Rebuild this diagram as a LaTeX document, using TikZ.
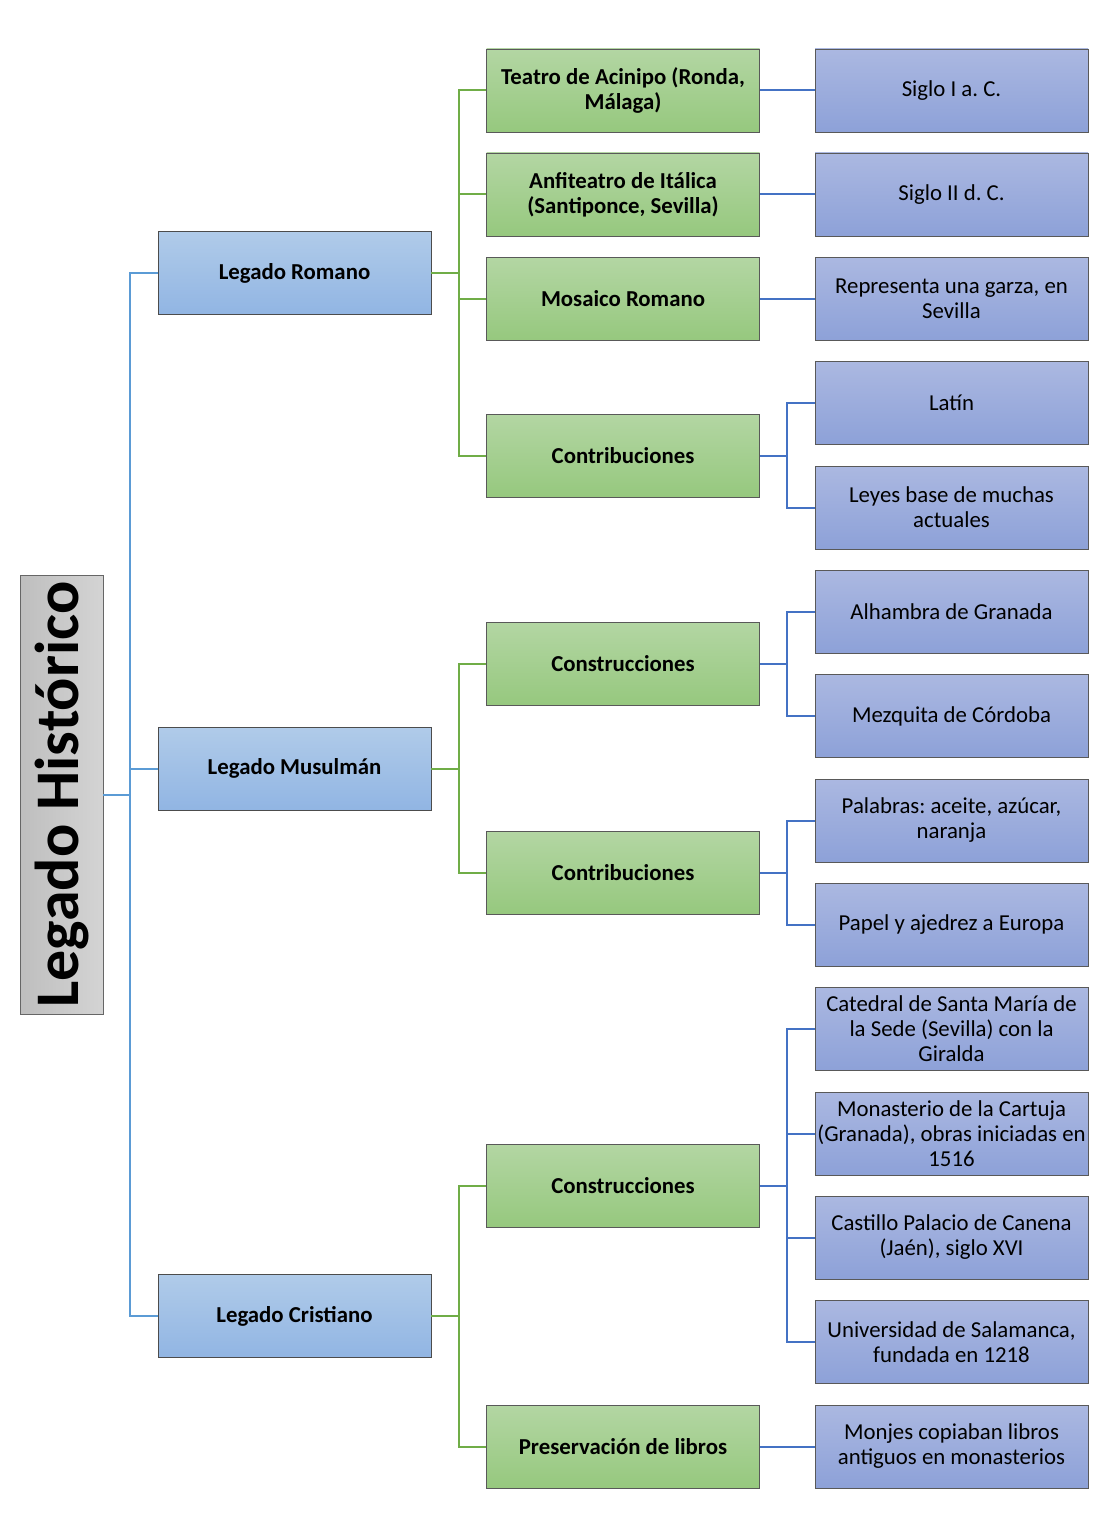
\documentclass[tikz,border=0pt]{standalone}
\usepackage{fontspec}
\setmainfont{Carlito}
\frenchspacing
\tikzset{
  base/.style={rectangle, draw=#1, line width=0.9pt, minimum width=273pt, minimum height=83pt, align=center, inner sep=0pt, font=\fontsize{22.8}{25}\selectfont},
  lone/.style={base=black!70, top color=blueA1, bottom color=blueA2, font=\fontsize{22.8}{25}\selectfont\bfseries},
  ltwo/.style={base=black!65, top color=greenA1, bottom color=greenA2, font=\fontsize{22.8}{25}\selectfont\bfseries},
  lthree/.style={base=black!65, top color=purpA1, bottom color=purpA2},
  ctitle/.style={rectangle, draw=black!60, line width=0.9pt, minimum width=439pt, minimum height=83pt, left color=grayA2, right color=grayA1, inner sep=0pt, font=\fontsize{62}{66}\selectfont\bfseries},
  cblue/.style={draw=lineA, line width=2pt},
  cgreen/.style={draw=lineG, line width=2pt},
  cdark/.style={draw=lineB, line width=2pt},
}
\definecolor{blueA1}{HTML}{B0CBE9}
\definecolor{blueA2}{HTML}{91B5E3}
\definecolor{greenA1}{HTML}{B3D6A3}
\definecolor{greenA2}{HTML}{96C87E}
\definecolor{purpA1}{HTML}{ABB8E1}
\definecolor{purpA2}{HTML}{8DA1D8}
\definecolor{grayA1}{HTML}{D4D4D4}
\definecolor{grayA2}{HTML}{BEBEBE}
\definecolor{lineA}{HTML}{5B9BD5}
\definecolor{lineG}{HTML}{70AD47}
\definecolor{lineB}{HTML}{4472C4}
\begin{document}
\begin{tikzpicture}[x=1pt,y=-1pt]
\useasboundingbox (0,0) rectangle (1107,1538);
% title
\node[ctitle, rotate=90] (t) at (61.5,794.5) {Legado Histórico};
% level 1
\node[lone] (r) at (294.5,273) {Legado Romano};
\node[lone] (m) at (294.5,768.5) {Legado Musulmán};
\node[lone] (c) at (294.5,1316) {Legado Cristiano};
% level 2
\node[ltwo] (r1) at (623,90.5) {Teatro de Acinipo (Ronda,\\Málaga)};
\node[ltwo] (r2) at (623,194.5) {Anfiteatro de Itálica\\(Santiponce, Sevilla)};
\node[ltwo] (r3) at (623,299) {Mosaico Romano};
\node[ltwo] (r4) at (623,455.5) {Contribuciones};
\node[ltwo] (m1) at (623,664) {Construcciones};
\node[ltwo] (m2) at (623,872.5) {Contribuciones};
\node[ltwo] (c1) at (623,1185.5) {Construcciones};
\node[ltwo] (c2) at (623,1446.5) {Preservación de libros};
% level 3
\node[lthree] (r1a) at (951.5,90.5) {Siglo I a. C.};
\node[lthree] (r2a) at (951.5,194.5) {Siglo II d. C.};
\node[lthree] (r3a) at (951.5,299) {Representa una garza, en\\Sevilla};
\node[lthree] (r4a) at (951.5,403) {Latín};
\node[lthree] (r4b) at (951.5,507.5) {Leyes base de muchas\\actuales};
\node[lthree] (m1a) at (951.5,612) {Alhambra de Granada};
\node[lthree] (m1b) at (951.5,716) {Mezquita de Córdoba};
\node[lthree] (m2a) at (951.5,820.5) {Palabras: aceite, azúcar,\\naranja};
\node[lthree] (m2b) at (951.5,924.5) {Papel y ajedrez a Europa};
\node[lthree] (c1a) at (951.5,1029) {Catedral de Santa María de\\la Sede (Sevilla) con la\\Giralda};
\node[lthree] (c1b) at (951.5,1133.5) {Monasterio de la Cartuja\\(Granada), obras iniciadas en\\1516};
\node[lthree] (c1c) at (951.5,1237.5) {Castillo Palacio de Canena\\(Jaén), siglo XVI};
\node[lthree] (c1d) at (951.5,1342) {Universidad de Salamanca,\\fundada en 1218};
\node[lthree] (c2a) at (951.5,1446.5) {Monjes copiaban libros\\antiguos en monasterios};
% connectors title -> level 1
\foreach \b in {r,m,c} \draw[cblue] (t.south) -- ++(27,0) |- (\b.west);
% level 1 -> level 2
\foreach \b in {r1,r2,r3,r4} \draw[cgreen] (r.east) -- ++(27.5,0) |- (\b.west);
\foreach \b in {m1,m2} \draw[cgreen] (m.east) -- ++(27.5,0) |- (\b.west);
\foreach \b in {c1,c2} \draw[cgreen] (c.east) -- ++(27.5,0) |- (\b.west);
% level 2 -> level 3
\draw[cdark] (r1.east) -- (r1a.west);
\draw[cdark] (r2.east) -- (r2a.west);
\draw[cdark] (r3.east) -- (r3a.west);
\foreach \b in {r4a,r4b} \draw[cdark] (r4.east) -- ++(27,0) |- (\b.west);
\foreach \b in {m1a,m1b} \draw[cdark] (m1.east) -- ++(27,0) |- (\b.west);
\foreach \b in {m2a,m2b} \draw[cdark] (m2.east) -- ++(27,0) |- (\b.west);
\foreach \b in {c1a,c1b,c1c,c1d} \draw[cdark] (c1.east) -- ++(27,0) |- (\b.west);
\draw[cdark] (c2.east) -- (c2a.west);
\end{tikzpicture}
\end{document}
